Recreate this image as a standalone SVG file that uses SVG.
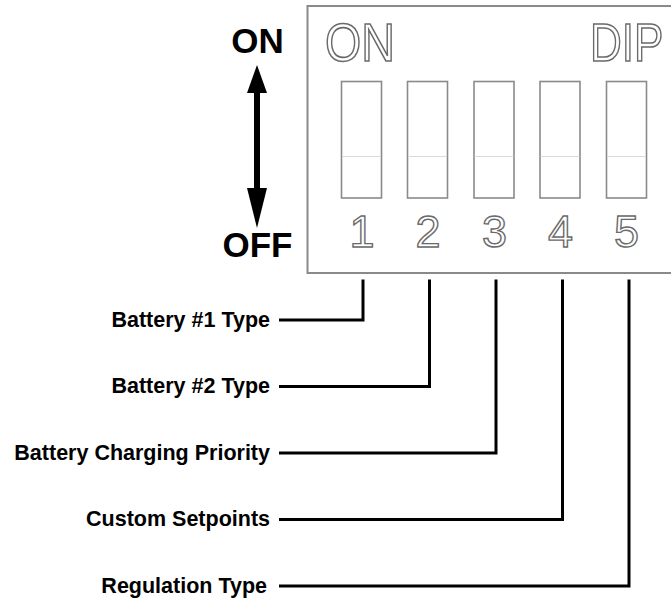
<svg xmlns="http://www.w3.org/2000/svg" width="671" height="599" viewBox="0 0 671 599">
<style>
.box{fill:#fff;stroke:#8a8a8a;stroke-width:2}
.sw{fill:#fff;stroke:#8a8a8a;stroke-width:1.6}
.div{stroke:#dadada;stroke-width:1}
.out{font-family:"Liberation Sans",Arial,sans-serif;fill:#fff;stroke:#6a6a6a;stroke-width:1.4}
.big{font-family:"Liberation Sans",Arial,sans-serif;fill:#fff;stroke:#6a6a6a;stroke-width:1.6}
.lbl{font-family:"Liberation Sans",Arial,sans-serif;font-weight:bold;fill:#000}
.con{fill:none;stroke:#000;stroke-width:3;stroke-linejoin:miter;stroke-linecap:butt}
</style>
<rect width="671" height="599" fill="#fff"/>
<g id="dip-switch">
<rect class="box" x="307.5" y="6" width="400" height="267"/>
<text class="big" transform="translate(325,61) scale(0.88,1)" x="0" y="0" font-size="53">ON</text>
<text class="big" transform="translate(590,61) scale(0.83,1)" x="0" y="0" font-size="53">DIP</text>
</g>
<g id="switch1"><rect class="sw" x="341.5" y="81.5" width="40" height="116.5"/><line class="div" x1="342" y1="156.5" x2="381" y2="156.5"/><text class="out" x="362" y="247" font-size="45" text-anchor="middle">1</text></g>
<g id="switch2"><rect class="sw" x="407.5" y="81.5" width="40" height="116.5"/><line class="div" x1="408" y1="156.5" x2="447" y2="156.5"/><text class="out" x="428" y="247" font-size="45" text-anchor="middle">2</text></g>
<g id="switch3"><rect class="sw" x="474" y="81.5" width="40" height="116.5"/><line class="div" x1="474.5" y1="156.5" x2="513.5" y2="156.5"/><text class="out" x="494.5" y="247" font-size="45" text-anchor="middle">3</text></g>
<g id="switch4"><rect class="sw" x="540" y="81.5" width="40" height="116.5"/><line class="div" x1="540.5" y1="156.5" x2="579.5" y2="156.5"/><text class="out" x="560.5" y="247" font-size="45" text-anchor="middle">4</text></g>
<g id="switch5"><rect class="sw" x="606.5" y="81.5" width="40" height="116.5"/><line class="div" x1="607" y1="156.5" x2="646" y2="156.5"/><text class="out" x="626.5" y="247" font-size="45" text-anchor="middle">5</text></g>
<g id="on-off">
<text class="lbl" x="257.5" y="53" font-size="35" text-anchor="middle">ON</text>
<text class="lbl" x="257.5" y="257" font-size="35" text-anchor="middle">OFF</text>
<path d="M257,65 L267,93 L260,93 L260,188 L267,188 L257,228 L247,188 L254,188 L254,93 L247,93 Z" fill="#000"/>
</g>
<g id="label1"><text class="lbl" x="270" y="326.5" font-size="21.5" text-anchor="end">Battery #1 Type</text></g>
<g id="label2"><text class="lbl" x="270" y="393" font-size="21.5" text-anchor="end">Battery #2 Type</text></g>
<g id="label3"><text class="lbl" x="270" y="459.5" font-size="21.5" text-anchor="end">Battery Charging Priority</text></g>
<g id="label4"><text class="lbl" x="270" y="526" font-size="21.5" text-anchor="end">Custom Setpoints</text></g>
<g id="label5"><text class="lbl" x="267" y="592.5" font-size="21.5" text-anchor="end">Regulation Type</text></g>
<g id="connectors">
<polyline class="con" points="279,320 363,320 363,279.5"/>
<polyline class="con" points="279,386.5 429.5,386.5 429.5,279.5"/>
<polyline class="con" points="279,453 496,453 496,279.5"/>
<polyline class="con" points="279,519.5 562.5,519.5 562.5,279.5"/>
<polyline class="con" points="279,586 629,586 629,279.5"/>
</g>
</svg>
